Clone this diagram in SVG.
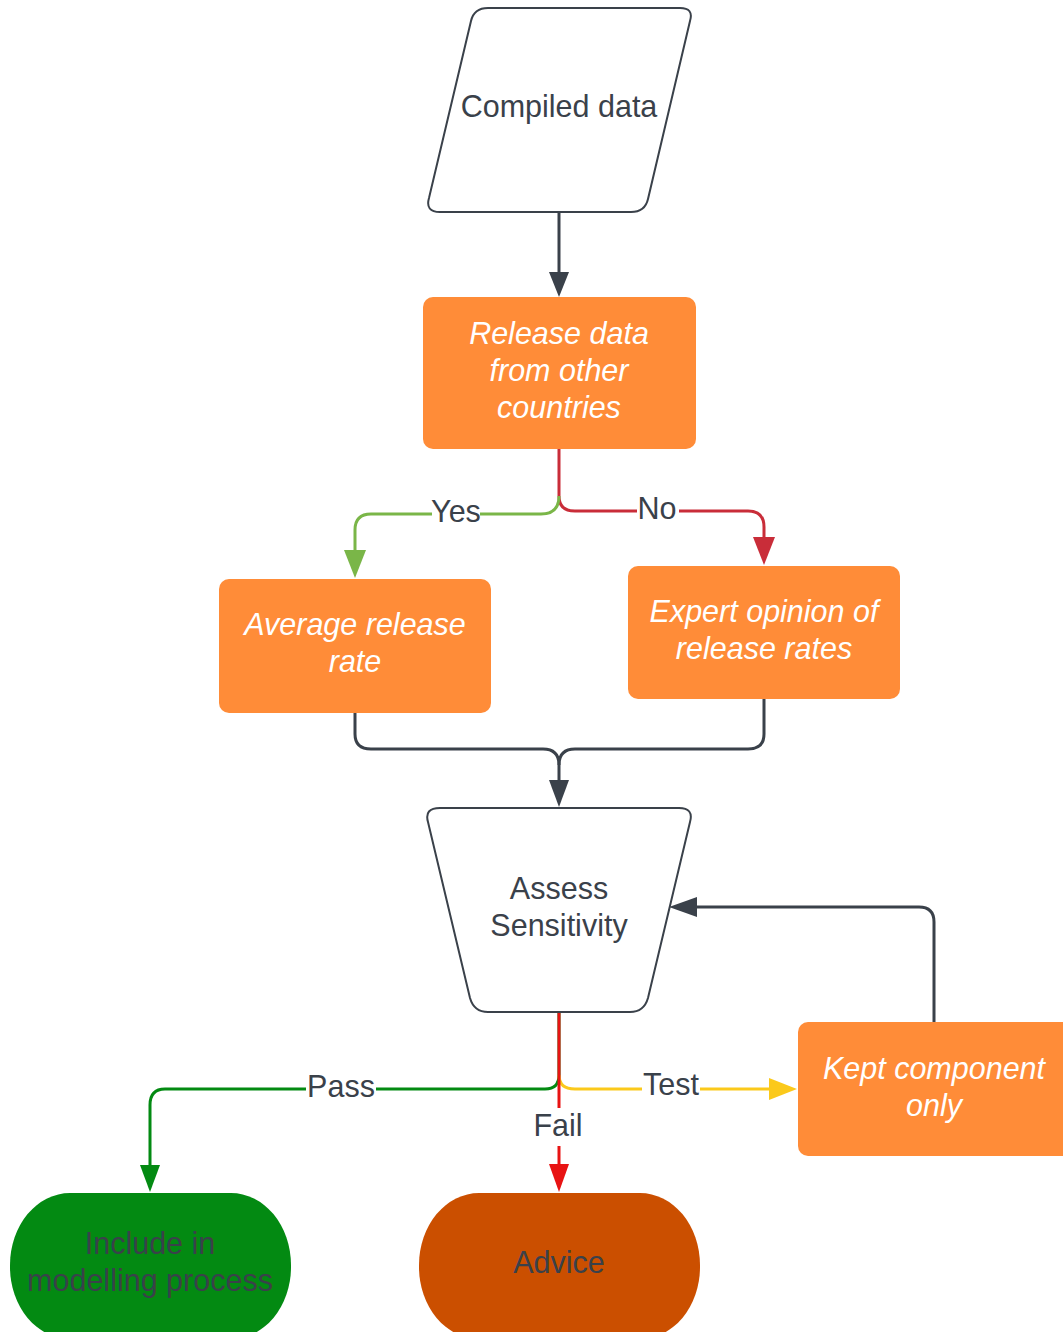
<svg xmlns="http://www.w3.org/2000/svg" width="1063" height="1332" viewBox="0 0 1063 1332">
<defs>
<style>
.t{font-family:"Liberation Sans",Arial,sans-serif;font-size:30.5px;text-anchor:middle;dominant-baseline:central}
.dk{fill:#3a414a}
.wi{fill:#ffffff;font-style:italic}
.box{fill:#ff8c38}
.shape{fill:#ffffff;stroke:#3a414a;stroke-width:2}
.c{fill:none;stroke-width:3}
.lbl{fill:#ffffff}
</style>
</defs>
<rect width="1063" height="1332" fill="#ffffff"/>

<g id="connectors">
  <!-- compiled -> release -->
  <path class="c" d="M559,212 V276" stroke="#3a414a" stroke-width="2"/>
  <path d="M549,272 L569,272 L559,297 z" fill="#3a414a"/>
  <!-- No (red) -->
  <path class="c" d="M559,449 V496 Q559,511 575,511 H748 Q764,511 764,527 V540" stroke="#c92d39"/>
  <path d="M753,537 L775,537 L764,565 z" fill="#c92d39"/>
  <!-- Yes (green) -->
  <path class="c" d="M559,496 Q559,514 541,514 H371 Q355,514 355,530 V552" stroke="#7ab648"/>
  <path d="M344,550 L366,550 L355,578 z" fill="#7ab648"/>
  <rect x="432" y="496" width="48" height="30" class="lbl"/>
  <text class="t dk" x="456" y="511">Yes</text>
  <rect x="637" y="492" width="42" height="30" class="lbl"/>
  <text class="t dk" x="657" y="508">No</text>
  <!-- merge -->
  <path class="c" d="M355,712 V734 Q355,749 371,749 H543 Q559,749 559,765 V782" stroke="#3a414a" stroke-width="2"/>
  <path class="c" d="M764,698 V734 Q764,749 748,749 H575 Q559,749 559,765" stroke="#3a414a" stroke-width="2"/>
  <path d="M549,780 L569,780 L559,807 z" fill="#3a414a"/>
  <!-- feedback -->
  <path class="c" d="M934,1022 V922 Q934,907 919,907 H695" stroke="#3a414a" stroke-width="2"/>
  <path d="M697,897 L697,917 L669,907 z" fill="#3a414a"/>
  <!-- Pass (green) -->
  <path class="c" d="M559,1013 V1075 Q559,1089 545,1089 H165 Q150,1089 150,1105 V1168" stroke="#038a12" stroke-width="2"/>
  <path d="M140,1165 L160,1165 L150,1192 z" fill="#038a12"/>
  <!-- Test (yellow) -->
  <path class="c" d="M559,1075 Q559,1089 575,1089 H772" stroke="#fbc91b" stroke-width="2"/>
  <path d="M769,1078 L769,1100 L797,1089 z" fill="#fbc91b"/>
  <!-- Fail (red) -->
  <path class="c" d="M559,1013 V1168" stroke="#e81313" stroke-width="2"/>
  <path d="M549,1164 L569,1164 L559,1192 z" fill="#e81313"/>
  <rect x="306" y="1072" width="70" height="30" class="lbl"/>
  <text class="t dk" x="341" y="1086">Pass</text>
  <rect x="642" y="1069" width="58" height="30" class="lbl"/>
  <text class="t dk" x="671" y="1084">Test</text>
  <rect x="532" y="1108" width="54" height="38" class="lbl"/>
  <text class="t dk" x="558" y="1125">Fail</text>
</g>

<g id="compiled-data">
  <path class="shape" d="M488,8 H680 Q694,8 690,21 L648,199 Q645,212 631,212 H440 Q425,212 429,198 L471,21 Q474,8 488,8 z"/>
  <text class="t dk" x="559" y="106">Compiled data</text>
</g>

<g id="release-data">
  <rect class="box" x="423" y="297" width="273" height="152" rx="10"/>
  <text class="t wi" x="559" y="333">Release data</text>
  <text class="t wi" x="559" y="370">from other</text>
  <text class="t wi" x="559" y="407">countries</text>
</g>

<g id="average-release">
  <rect class="box" x="219" y="579" width="272" height="134" rx="10"/>
  <text class="t wi" x="355" y="624">Average release</text>
  <text class="t wi" x="355" y="661">rate</text>
</g>

<g id="expert-opinion">
  <rect class="box" x="628" y="566" width="272" height="133" rx="10"/>
  <text class="t wi" x="764" y="611">Expert opinion of</text>
  <text class="t wi" x="764" y="648">release rates</text>
</g>

<g id="assess-sensitivity">
  <path class="shape" d="M440,808 H679 Q694,808 690,822 L648,998 Q644,1012 630,1012 H488 Q474,1012 470,998 L428,822 Q424,808 440,808 z"/>
  <text class="t dk" x="559" y="888">Assess</text>
  <text class="t dk" x="559" y="925">Sensitivity</text>
</g>

<g id="kept-component">
  <rect class="box" x="798" y="1022" width="280" height="134" rx="10"/>
  <text class="t wi" x="934" y="1068">Kept component</text>
  <text class="t wi" x="934" y="1105">only</text>
</g>

<g id="include-modelling">
  <rect x="10" y="1193" width="281" height="146" rx="60" ry="72" fill="#038a12"/>
  <text class="t dk" x="150" y="1243">Include in</text>
  <text class="t dk" x="150" y="1280">modelling process</text>
</g>

<g id="advice">
  <rect x="419" y="1193" width="281" height="146" rx="60" ry="72" fill="#cb4f00"/>
  <text class="t dk" x="559" y="1262">Advice</text>
</g>
</svg>
